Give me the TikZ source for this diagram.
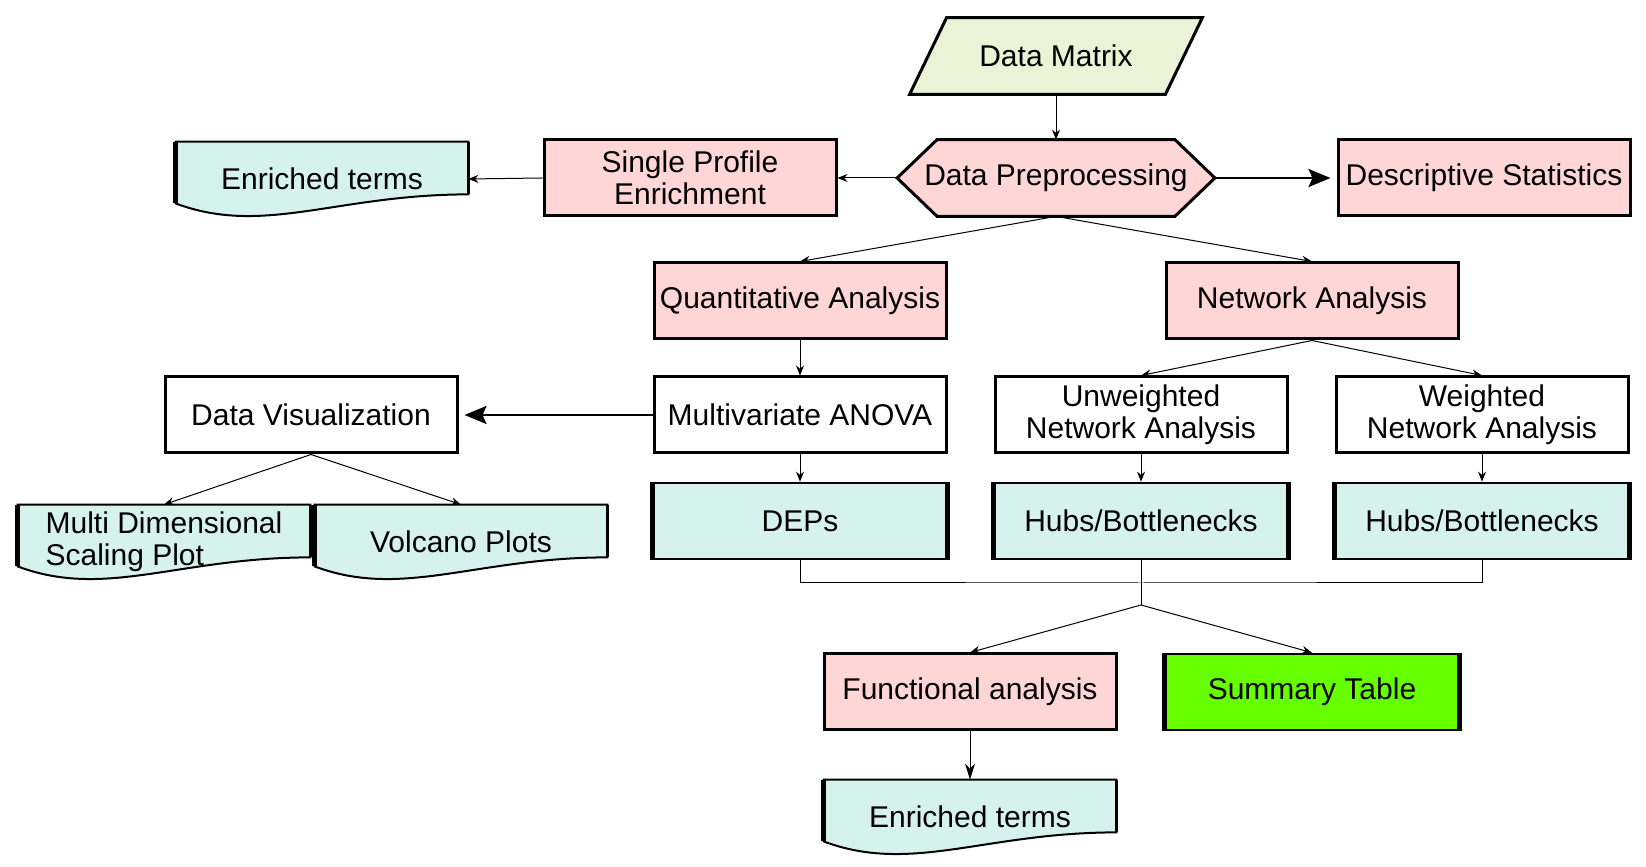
\documentclass[tikz,border=0pt]{standalone}
\usepackage{fontspec}
\setmainfont{Liberation Sans}
\usetikzlibrary{arrows.meta,calc,backgrounds}

\definecolor{procpink}{RGB}{255,214,214}
\definecolor{doccyan}{RGB}{214,242,237}
\definecolor{inputgreen}{RGB}{236,242,214}
\definecolor{tablegreen}{RGB}{102,255,0}

\begin{document}
\begin{tikzpicture}[x=0.5pt, y=0.5pt,
	every node/.style={font=\fontsize{15pt}{16pt}\selectfont, align=center, inner sep=2pt},
	box/.style={draw, line width=1.5pt, minimum width=146pt, minimum height=38pt},
	proc/.style={box, fill=procpink},
	result/.style={box, fill=doccyan, line width=1.3pt},
	shapebox/.style={minimum width=146pt, minimum height=38pt},
	doc/.style={minimum width=146pt, minimum height=37pt},
	link/.style={line width=0.5pt, -{Stealth[length=5pt,width=4pt]}},
	midlink/.style={line width=0.5pt, -{Stealth[length=8pt,width=5pt]}},
	biglink/.style={line width=1.2pt, -{Stealth[length=11pt,width=9pt,inset=2pt]}, shorten >=3pt},
	busline/.style={line width=0.5pt},
	sideline/.style={line width=2.6pt}]
	\useasboundingbox (0,0) rectangle (1646,867);
	
	% 1. input and preprocessing
	\node[shapebox] (dm) at (1056,811) {Data Matrix};
	\node[shapebox, minimum width=158.5pt] (prep) at (1056,689) {Data Preprocessing};
	\node[proc] (desc) at (1484,689) {Descriptive Statistics};
	\node[proc] (spe) at (690,689) {Single Profile\\Enrichment};
	\node[doc] (et1) at (322,688) {Enriched terms};
	
	% 2. analysis boxes
	\node[proc] (quant) at (800,566) {Quantitative Analysis};
	\node[proc] (net) at (1312,566) {Network Analysis};
	\node[box] (dv) at (311,452) {Data Visualization};
	\node[box] (manova) at (800,452) {Multivariate ANOVA};
	\node[box] (una) at (1141,452) {Unweighted\\Network Analysis};
	\node[box] (wna) at (1482,452) {Weighted\\Network Analysis};
	
	% 3. outputs
	\node[doc, align=left] (mds) at (164,325) {Multi Dimensional\\Scaling Plot};
	\node[doc] (volc) at (461,325) {Volcano Plots};
	\node[result] (deps) at (800,346) {DEPs};
	\node[result] (hub1) at (1141,346) {Hubs/Bottlenecks};
	\node[result] (hub2) at (1482,346) {Hubs/Bottlenecks};
	\node[proc] (func) at (970,175) {Functional analysis};
	\node[result, fill=tablegreen] (summ) at (1312,175) {Summary Table};
	\node[doc] (et2) at (970,50) {Enriched terms};
	
	% 4. shapes behind the texts
	\begin{scope}[on background layer]
		\draw[fill=inputgreen, line width=1.5pt] (dm.south west) -- ([xshift=-18.5pt]dm.south east) -- (dm.north east) -- ([xshift=18.5pt]dm.north west) -- cycle;
		\draw[fill=procpink, line width=1.5pt] (prep.west) -- ([xshift=20pt]prep.north west) -- ([xshift=-20pt]prep.north east) -- (prep.east) -- ([xshift=-20pt]prep.south east) -- ([xshift=20pt]prep.south west) -- cycle;
		\foreach \n in {et1,mds,volc,et2} {
			\draw[fill=doccyan, line width=1pt] (\n.north west) -- (\n.north east) -- ([yshift=11pt]\n.south east)
				.. controls ([yshift=11pt]$(\n.south west)!0.55!(\n.south east)$) and ([yshift=-10pt]$(\n.south west)!0.3!(\n.south east)$) .. ([yshift=6.5pt]\n.south west) -- cycle;
			\draw[line width=2.2pt] (\n.north west) -- ([yshift=6.5pt]\n.south west);
			\draw[line width=1.8pt] (\n.north east) -- ([yshift=11pt]\n.south east);
		}
	\end{scope}
	\foreach \n in {deps,hub1,hub2,summ} {
		\draw[sideline] (\n.north west) -- (\n.south west);
		\draw[sideline] (\n.north east) -- (\n.south east);
	}
	
	% 5. connectors
	\draw[link] (dm.south) -- (prep.north);
	\draw[link] (prep.west) -- (spe.east);
	\draw[biglink] (prep.east) -- (desc.west);
	\draw[link] (spe.west) -- (et1.east);
	\draw[link] (prep.south) -- (quant.north);
	\draw[link] (prep.south) -- (net.north);
	\draw[link] (quant) -- (manova);
	\draw[link] (net.south) -- (una.north);
	\draw[link] (net.south) -- (wna.north);
	\draw[biglink] (manova.west) -- (dv.east);
	\draw[link] (dv.south) -- (mds.north);
	\draw[link] (dv.south) -- (volc.north);
	\draw[link] (manova) -- (deps);
	\draw[link] (una) -- (hub1);
	\draw[link] (wna) -- (hub2);
	
	\coordinate (bus) at (1141,284);
	\coordinate (join) at (1141,262);
	\draw[busline] (deps.south) |- (bus) -| (hub2.south);
	\draw[busline] (hub1.south) -- (join);
	\draw[link] (join) -- (func.north);
	\draw[link] (join) -- (summ.north);
	\draw[midlink] (func) -- (et2);
\end{tikzpicture}
\end{document}
